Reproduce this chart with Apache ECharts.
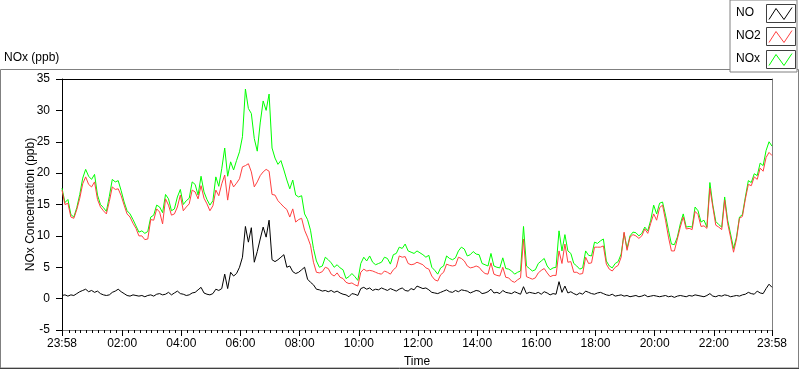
<!DOCTYPE html>
<html>
<head>
<meta charset="utf-8">
<script src="https://cdn.jsdelivr.net/npm/echarts@6/dist/echarts.min.js"></script>
<style>
html,body{margin:0;padding:0;background:#fff;}
#chart{width:800px;height:369px;}
</style>
</head>
<body>
<div id="chart"></div>
<script>
// Sampling: first sample at 23:58 (=-2 min relative to midnight), one sample every 6 minutes
const START_MIN = -2;
const STEP_MIN = 6;

const seriesNames = ['NO', 'NO2', 'NOx'];

const noValues = [
0.5,0.6,0.4,0.6,0.5,0.8,1.1,1.3,1.5,1.1,1.3,1.0,1.2,0.8,0.6,0.5,0.6,1.0,1.2,1.5,
1.1,0.8,0.5,0.4,0.6,0.5,0.4,0.5,0.3,0.5,0.6,0.4,0.7,0.8,0.6,0.7,1.0,0.6,0.9,1.2,
0.8,0.7,0.5,0.6,0.9,1.0,1.4,1.8,0.9,0.7,0.6,0.8,1.5,1.3,1.6,3.9,1.6,4.2,3.6,4.0,
5.0,6.6,11.5,9.0,11.3,5.8,7.5,9.5,11.4,9.8,12.5,6.2,5.9,6.2,6.6,7.0,5.0,5.2,4.3,4.0,
4.2,4.6,5.0,3.1,2.6,2.2,1.5,1.4,1.2,1.3,1.1,1.3,1.0,1.2,0.9,0.7,0.6,0.3,0.8,0.7,
0.5,1.6,1.8,1.5,1.7,1.3,1.5,1.4,1.7,1.5,1.3,1.6,1.4,1.2,1.5,1.7,1.3,1.2,1.6,1.4,
2.0,1.8,1.6,1.7,1.4,1.0,0.9,0.8,1.0,1.2,1.4,1.1,1.0,1.3,1.1,1.4,1.3,1.2,0.9,1.1,
1.3,1.2,0.8,0.9,1.1,1.5,0.9,1.0,0.8,1.3,1.0,0.9,0.8,1.1,0.9,0.7,1.9,0.8,1.0,0.9,
0.8,1.0,0.7,1.1,0.9,0.6,0.8,0.7,2.7,1.0,2.0,0.9,1.1,0.8,0.6,0.9,0.7,1.2,1.0,0.8,
0.7,0.9,1.0,0.8,0.6,0.5,0.7,0.4,0.5,0.6,0.4,0.5,0.3,0.4,0.5,0.3,0.4,0.6,0.3,0.4,
0.5,0.4,0.3,0.4,0.5,0.3,0.4,0.2,0.4,0.5,0.4,0.3,0.5,0.4,0.6,0.5,0.4,0.3,0.5,0.8,
0.4,0.3,0.5,0.4,0.6,0.5,0.3,0.4,0.5,0.4,0.6,0.7,1.0,0.8,0.7,1.2,0.9,0.8,1.6,2.3,
1.8
];

const no2Values = [
17.3,15.0,15.2,13.0,12.8,14.2,16.0,18.3,19.4,18.2,17.8,18.6,15.8,14.6,14.0,13.5,15.5,17.8,17.4,17.5,
16.4,14.9,13.5,13.0,12.0,11.2,10.0,10.0,9.4,9.5,12.6,12.5,14.3,13.8,11.9,15.9,14.9,13.3,13.5,14.6,
16.5,14.0,14.6,15.1,17.3,17.0,15.9,18.0,16.0,15.1,14.0,14.8,17.3,16.4,18.3,19.7,15.7,18.9,17.8,18.4,
19.1,21.0,21.2,21.5,20.2,17.8,18.6,19.6,20.2,20.6,20.3,16.6,16.5,15.6,15.1,14.6,14.2,13.0,14.3,12.2,
12.6,12.8,10.9,9.8,8.5,5.8,4.2,4.1,4.3,5.0,4.8,3.9,3.6,4.1,3.4,3.2,2.6,2.4,2.5,2.2,
2.0,4.2,4.7,4.4,4.5,4.4,4.2,4.0,3.9,4.4,4.2,3.9,4.6,5.0,6.8,6.6,6.7,5.6,5.4,5.5,
5.8,5.6,5.4,4.9,4.7,3.6,3.0,2.8,3.8,4.2,5.5,5.3,5.2,5.3,6.6,6.4,6.0,5.2,4.9,5.0,
5.2,5.0,4.4,4.0,3.9,5.7,3.9,3.7,3.6,5.0,3.4,3.3,2.8,2.6,3.0,3.3,9.5,3.5,3.3,3.1,
3.3,4.1,4.5,4.8,4.1,3.5,3.7,3.7,7.6,5.6,8.7,5.8,5.9,4.2,4.2,3.9,4.0,6.6,5.6,5.7,
8.2,8.2,8.2,8.4,5.5,4.7,4.4,5.0,5.3,6.6,10.6,7.7,9.8,10.2,10.0,9.6,10.0,11.1,10.4,12.0,
13.5,12.5,14.5,14.9,12.5,9.8,7.6,7.6,9.5,11.4,13.0,11.1,11.2,11.0,13.9,13.4,11.5,11.6,11.2,17.6,
14.6,11.7,11.4,11.0,15.7,12.0,9.8,7.4,9.5,12.8,13.1,15.9,18.2,18.0,19.4,19.0,20.8,20.3,22.5,23.3,
22.8
];

const noxValues = [
17.6,15.3,15.8,13.4,13.0,14.5,16.6,19.2,20.6,19.5,19.0,19.8,16.5,15.0,14.5,13.9,16.3,19.0,18.6,18.8,
17.2,15.4,14.0,13.5,12.6,11.6,10.6,10.8,10.4,10.7,13.0,13.3,14.9,14.6,13.7,16.6,15.9,14.0,14.3,16.2,
17.4,15.0,15.6,16.0,18.6,18.2,16.5,19.5,17.0,15.8,14.9,15.6,19.4,17.9,20.7,24.0,19.5,21.8,20.5,22.0,
23.4,25.8,33.4,30.3,29.5,25.5,23.5,28.0,31.5,30.0,32.6,24.0,22.4,21.4,22.0,20.5,18.9,17.5,18.9,16.5,
16.2,16.4,13.5,12.6,10.9,8.0,6.0,5.0,5.2,6.6,6.2,5.7,5.0,5.4,4.9,4.6,3.2,3.5,4.0,3.5,
2.9,5.6,6.6,6.0,6.8,5.8,5.4,5.6,5.8,6.6,6.4,5.5,7.0,7.2,8.2,8.0,8.7,7.6,7.4,7.2,
7.6,7.3,7.0,6.6,6.9,5.0,4.5,3.9,4.9,5.2,6.8,6.4,6.2,6.5,7.6,8.2,7.9,6.8,7.0,7.5,
7.1,7.0,5.6,5.4,5.2,7.2,5.2,5.0,4.9,6.5,4.8,4.7,4.4,3.9,4.2,4.4,11.5,5.2,4.8,4.4,
4.6,5.6,6.0,6.4,5.2,4.6,4.9,5.0,10.8,7.6,10.2,7.6,7.2,5.6,5.2,4.7,4.9,7.6,6.9,6.8,
9.0,8.8,9.2,9.5,6.0,5.2,4.9,5.6,5.9,7.1,10.4,8.0,10.0,10.6,10.5,10.0,10.4,11.4,10.8,12.5,
14.9,13.5,15.2,15.4,13.3,10.9,8.7,8.6,9.8,11.9,13.5,11.4,11.5,11.4,14.6,14.0,12.2,12.5,11.4,18.5,
14.9,12.3,11.8,11.4,16.2,12.5,10.3,8.0,9.8,13.0,13.4,16.2,18.8,18.5,19.9,19.6,21.6,21.2,23.6,25.0,
24.3
];

// axis tick positions (minutes relative to midnight of the day shown)
const majorTickMinutes = [-2,120,240,360,480,600,720,840,960,1080,1200,1320,1438];
const minorTickMinutes = [12,24,36,48,60,72,84,96,108,132,144,156,168,180,192,204,216,228,
252,264,276,288,300,312,324,336,348,372,384,396,408,420,432,444,456,468,
492,504,516,528,540,552,564,576,588,612,624,636,648,660,672,684,696,708,
732,744,756,768,780,792,804,816,828,852,864,876,888,900,912,924,936,948,
972,984,996,1008,1020,1032,1044,1056,1068,1092,1104,1116,1128,1140,1152,1164,1176,1188,
1212,1224,1236,1248,1260,1272,1284,1296,1308,1332,1344,1356,1368,1380,1392,1404,1416,1428];
const yTicks = {min: -5, max: 35, interval: 5};

function toPairs(vals){
  return vals.map((v,i)=>[START_MIN + i*STEP_MIN, v]);
}
function fmtTime(v){
  const m = ((Math.round(v) % 1440) + 1440) % 1440;
  const h = Math.floor(m/60), mm = m % 60;
  return (h<10?'0':'')+h+':'+(mm<10?'0':'')+mm;
}

const FONT = 'Liberation Sans';
const chart = echarts.init(document.getElementById('chart'), null, {renderer:'canvas'});

const colors = {NO:'#000000', NO2:'#ff4040', NOx:'#00ff00'};

// legend sample boxes (decoration, one per legend row)
const legendBoxes = [];
seriesNames.forEach((n, i) => {
  const y0 = 4 + i*23;
  legendBoxes.push({type:'rect', z:100, zlevel:1, silent:true,
    shape:{x:766.5, y:y0+0.5, width:29, height:18}, style:{fill:'#fff', stroke:'#404040', lineWidth:1}});
  legendBoxes.push({type:'polyline', z:101, zlevel:1, silent:true,
    shape:{points:[[769,y0+15.5],[776,y0+4.5],[784,y0+15.5],[792,y0+3.5]]},
    style:{fill:'none', stroke:colors[n], lineWidth:1}});
});

chart.setOption({
  animation:false,
  backgroundColor:'#ffffff',
  title:{
    text:'NOx (ppb)', left:4, top:52, padding:0,
    textStyle:{fontFamily:FONT, fontSize:12, fontWeight:'normal', color:'#000'}
  },
  legend:{
    data:seriesNames,
    orient:'vertical', left:730, top:0,
    padding:[4,3,4,6], itemGap:5,
    itemWidth:27, itemHeight:18,
    align:'right',
    icon:'rect',
    itemStyle:{color:'transparent', borderWidth:0},
    backgroundColor:'#ffffff', borderColor:'#808080', borderWidth:1,
    selectedMode:false,
    formatter: n => '{t|'+n+'}',
    textStyle:{fontFamily:FONT, fontSize:12, color:'#000',
      rich:{t:{width:26, align:'left', fontFamily:FONT, fontSize:12, color:'#000'}}},
    z:10
  },
  graphic:[
    {type:'rect', z:-1, silent:true, shape:{x:0.5,y:69.5,width:798,height:298.5},
     style:{fill:'none', stroke:'#808080', lineWidth:1}},
    {type:'line', z:-1, silent:true, shape:{x1:0,y1:368.5,x2:799,y2:368.5},
     style:{stroke:'#404040', lineWidth:1}}
  ].concat(legendBoxes),
  grid:{left:62, right:28, top:79, bottom:39, containLabel:false, outerBoundsMode:'none'},
  xAxis:[
    {type:'value', min:-2, max:1438, position:'bottom',
     name:'Time', nameLocation:'middle', nameGap:26, nameMoveOverlap:false,
     nameTextStyle:{fontFamily:FONT, fontSize:12, color:'#000'},
     axisLine:{show:true, onZero:false, lineStyle:{color:'#808080', width:1}},
     axisTick:{show:true, length:6, lineStyle:{color:'#000'}, customValues:majorTickMinutes},
     axisLabel:{show:true, margin:8, fontFamily:FONT, fontSize:12, color:'#000',
       customValues:majorTickMinutes, formatter:fmtTime, showMinLabel:true, showMaxLabel:true},
     splitLine:{show:false}},
    {type:'value', min:-2, max:1438, position:'bottom',
     axisLine:{show:false, onZero:false},
     axisTick:{show:true, length:3, lineStyle:{color:'#000'}, customValues:minorTickMinutes},
     axisLabel:{show:false}, splitLine:{show:false}},
    {type:'value', min:-2, max:1438, position:'top',
     axisLine:{show:true, onZero:false, lineStyle:{color:'#000', width:1}},
     axisTick:{show:false}, axisLabel:{show:false}, splitLine:{show:false}}
  ],
  yAxis:[
    {type:'value', min:yTicks.min, max:yTicks.max, interval:yTicks.interval, position:'left',
     name:'NOx Concentration (ppb)', nameLocation:'middle', nameGap:25, nameRotate:90,
     nameMoveOverlap:false,
     nameTextStyle:{fontFamily:FONT, fontSize:12, color:'#000'},
     axisLine:{show:true, onZero:false, lineStyle:{color:'#000', width:1}},
     axisTick:{show:true, length:6, lineStyle:{color:'#000'}},
     axisLabel:{margin:12, fontFamily:FONT, fontSize:12, color:'#000'},
     splitLine:{show:false}},
    {type:'value', min:yTicks.min, max:yTicks.max, interval:yTicks.interval, position:'right',
     axisLine:{show:true, onZero:false, lineStyle:{color:'#808080', width:1}},
     axisTick:{show:false}, axisLabel:{show:false}, splitLine:{show:false}}
  ],
  series:[
    {name:'NO', type:'line', data:toPairs(noValues), showSymbol:false, symbol:'none', z:4,
     lineStyle:{color:colors.NO, width:1}, itemStyle:{color:colors.NO}},
    {name:'NO2', type:'line', data:toPairs(no2Values), showSymbol:false, symbol:'none', z:3,
     lineStyle:{color:colors.NO2, width:1}, itemStyle:{color:colors.NO2}},
    {name:'NOx', type:'line', data:toPairs(noxValues), showSymbol:false, symbol:'none', z:2,
     lineStyle:{color:colors.NOx, width:1}, itemStyle:{color:colors.NOx}}
  ]
});
</script>
</body>
</html>
